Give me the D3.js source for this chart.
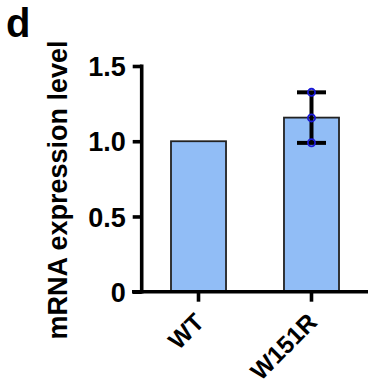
<!DOCTYPE html>
<html>
<head>
<meta charset="utf-8">
<script src="https://cdn.jsdelivr.net/npm/d3@7"></script>
<style>
  body { margin: 0; background: #fff; }
  text { font-family: "Liberation Sans", Arial, sans-serif; font-weight: bold; }
</style>
</head>
<body>
<div id="chart"></div>
<script>
// data
var groups = ["WT", "W151R"];
var means = [1.0, 1.157];
var sds = [0, 0.168];
var points = [[], [1.325, 1.155, 0.99]];
var yTicks = [0, 0.5, 1.0, 1.5];
var yTickLabels = ["0", "0.5", "1.0", "1.5"];

var W = 368, H = 388;
var svg = d3.select('#chart').append('svg').attr('width', W).attr('height', H);

var x = d3.scaleBand().domain(groups).range([142, 368]).paddingInner(0.513).paddingOuter(0.2566);
var y = d3.scaleLinear().domain([0, 1.5]).range([291.7, 66]);

// bars
svg.selectAll('rect.bar').data(groups).enter().append('rect')
  .attr('class', 'bar')
  .attr('x', function(d) { return x(d); })
  .attr('width', x.bandwidth())
  .attr('y', function(d, i) { return y(means[i]); })
  .attr('height', function(d, i) { return y(0) - y(means[i]); })
  .style('fill', '#91bdf6')
  .style('stroke', '#222')
  .style('stroke-width', 1.8);

// error bars + points
groups.forEach(function(g, i) {
  if (!sds[i]) return;
  var cx = x(g) + x.bandwidth() / 2;
  var eb = svg.append('g').style('stroke', '#000').style('stroke-width', 4);
  eb.append('line').attr('x1', cx).attr('x2', cx).attr('y1', y(means[i] - sds[i])).attr('y2', y(means[i] + sds[i]));
  [means[i] - sds[i], means[i] + sds[i]].forEach(function(v) {
    eb.append('line').attr('x1', cx - 14.5).attr('x2', cx + 14.5).attr('y1', y(v)).attr('y2', y(v));
  });
  svg.selectAll(null).data(points[i]).enter().append('circle')
    .attr('cx', cx)
    .attr('cy', function(d) { return y(d); })
    .attr('r', 3.6)
    .style('fill', 'none')
    .style('stroke', '#1a1ad6')
    .style('stroke-width', 1.8);
});

// y axis
var yAxis = svg.append('g').attr('transform', 'translate(141.7,0)')
  .call(d3.axisLeft(y).tickValues(yTicks).tickFormat(function(d, i) { return yTickLabels[i]; }).tickSize(9).tickPadding(7));
yAxis.select('.domain').attr('d', 'M0,' + (y(1.5) - 1.5) + 'V' + (y(0) + 1.8)).style('stroke-width', 3.6);
yAxis.selectAll('.tick line').style('stroke-width', 3.6);
yAxis.selectAll('.tick text').style('font-size', '27px').style('fill', '#000')
  .attr('dy', '0.36em');

// x axis
var xAxis = svg.append('g').attr('transform', 'translate(0,' + y(0) + ')')
  .call(d3.axisBottom(x).tickSize(10).tickPadding(0));
xAxis.select('.domain').attr('d', 'M132,0H368').style('stroke-width', 3.6);
xAxis.selectAll('.tick line').style('stroke-width', 3.6);
xAxis.selectAll('.tick text')
  .style('font-size', '24.5px').style('fill', '#000')
  .attr('text-anchor', 'end')
  .attr('y', 0)
  .attr('dy', 0)
  .attr('transform', 'translate(7,32) rotate(-45)');

// y label
svg.append('text')
  .attr('transform', 'translate(67,190) rotate(-90)')
  .attr('text-anchor', 'middle')
  .style('font-size', '27px')
  .text('mRNA expression level');

// panel letter
svg.append('text').attr('x', 6).attr('y', 37).style('font-size', '40px').text('d');
</script>
</body>
</html>
